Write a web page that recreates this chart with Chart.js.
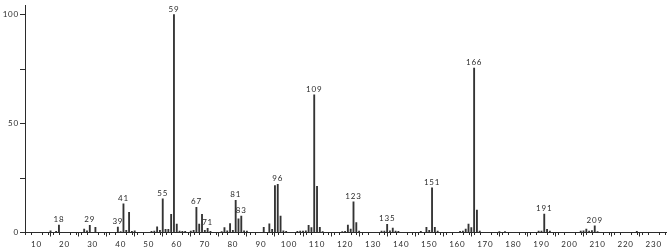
<!DOCTYPE html>
<html>
<head>
<meta charset="utf-8">
<script src="https://cdn.jsdelivr.net/npm/chart.js@4/dist/chart.umd.min.js"></script>
<style>
  html, body { margin: 0; padding: 0; background: #fff; }
  #wrap { width: 667px; height: 249px; position: relative; }
</style>
</head>
<body>
<div id="wrap"><canvas id="ms"></canvas></div>
<script>
/* ── Espectro de masas: m/z e intensidad relativa ── */
const masses = [
  15, 17, 18, 27, 28, 29, 31, 39, 40, 41, 42, 43, 44, 45,
  51, 52, 53, 54, 55, 56, 57, 58, 59, 60, 61, 62, 63,
  65, 66, 67, 68, 69, 70, 71, 72, 76, 77, 78, 79, 80, 81, 82, 83, 84, 85,
  91, 93, 94, 95, 96, 97, 98, 99, 103, 104, 105, 106, 107, 108, 109, 110, 111, 112,
  119, 120, 121, 122, 123, 124, 125, 133, 134, 135, 136, 137, 138, 139,
  147, 149, 150, 151, 152, 153, 161, 162, 163, 164, 165, 166, 167, 168,
  175, 177, 189, 190, 191, 192, 193, 204, 205, 206, 207, 208, 209, 210, 224
];
const intensities = [
  0.8, 0.5, 3.4, 1.6, 0.8, 3.3, 2.4, 2.5, 0.4, 13.2, 1.0, 9.2, 0.5, 0.8,
  0.5, 0.6, 2.6, 1.0, 15.4, 1.5, 1.5, 8.3, 100, 3.9, 0.7, 0.5, 0.5,
  0.7, 1.0, 11.5, 3.9, 8.3, 1.0, 1.9, 0.5, 0.4, 2.2, 0.8, 4.1, 1.0, 14.8, 6.3, 7.5, 0.8, 0.7,
  2.4, 4.0, 1.4, 21.5, 22.1, 7.5, 0.8, 0.5, 0.5, 0.7, 0.6, 0.8, 3.3, 2.2, 63.1, 21.2, 2.4, 0.4,
  0.4, 0.5, 3.4, 1.6, 14.1, 4.5, 0.7, 0.6, 0.6, 3.8, 0.8, 2.0, 0.6, 0.5,
  0.5, 2.4, 1.0, 20.5, 2.4, 0.7, 0.5, 0.7, 1.6, 3.9, 2.2, 75.4, 10.3, 0.6,
  0.4, 0.4, 0.6, 0.6, 8.4, 1.4, 0.6, 0.6, 0.8, 1.6, 0.7, 0.9, 3.1, 0.4, 0.5
];
const labeledPeaks = [18, 29, 39, 41, 55, 59, 67, 71, 81, 83, 96, 109, 123, 135, 151, 166, 191, 209];

const xTicks = [10, 20, 30, 40, 50, 60, 70, 80, 90, 100, 110, 120, 130, 140, 150, 160, 170, 180, 190, 200, 210, 220, 230];
const yTicks = [0, 25, 50, 75, 100];
const yTickLabels = ['0', '', '50', '', '100'];

const FONT = 'Lato';
const INK  = '#2b2b2b';

/* ── Etiquetas de picos sobre las barras ── */
const peakLabels = {
  id: 'peakLabels',
  afterDatasetsDraw(chart) {
    const { ctx, scales: { x, y } } = chart;
    ctx.save();
    ctx.font = `8px ${FONT}`;
    ctx.fillStyle = INK;
    ctx.textAlign = 'center';
    ctx.textBaseline = 'alphabetic';
    labeledPeaks.forEach(m => {
      const v = intensities[masses.indexOf(m)];
      ctx.fillText(String(m), x.getPixelForValue(m), y.getPixelForValue(v) - 3);
    });
    ctx.restore();
  }
};

/* ── Marcas menores del eje x (cada 2 unidades) ── */
const minorTicks = {
  id: 'minorTicks',
  afterDraw(chart) {
    const { ctx, scales: { x }, chartArea } = chart;
    ctx.save();
    ctx.strokeStyle = INK;
    ctx.lineWidth = 1;
    ctx.beginPath();
    for (let m = 6; m <= 234; m += 2) {
      if (m % 10 === 0) continue;
      const px = Math.round(x.getPixelForValue(m)) + 0.5;
      ctx.moveTo(px, chartArea.bottom);
      ctx.lineTo(px, chartArea.bottom + 2.5);
    }
    ctx.stroke();
    ctx.restore();
  }
};

const spacing = {
  id: 'spacing',
  beforeDraw(chart) { chart.ctx.letterSpacing = '0.8px'; }
};

new Chart(document.getElementById('ms'), {
  type: 'bar',
  data: {
    datasets: [{
      data: masses.map((m, i) => ({ x: m, y: intensities[i] })),
      backgroundColor: '#333',
      borderWidth: 0,
      barThickness: 1.2,
    }],
  },
  options: {
    responsive: true,
    maintainAspectRatio: false,
    animation: false,
    layout: { padding: { top: 5, right: 1, left: 0, bottom: 0 } },
    plugins: { legend: { display: false }, tooltip: { enabled: false } },
    scales: {
      x: {
        type: 'linear', min: 5.9, max: 234.4, offset: false,
        afterBuildTicks: s => { s.ticks = xTicks.map(v => ({ value: v })); },
        afterFit: s => { s.height = 16.5; },
        grid: { display: true, drawOnChartArea: false, drawTicks: true, tickLength: 4, color: INK },
        border: { color: INK, width: 1 },
        ticks: { font: { family: FONT, size: 8 }, color: INK, padding: 3, maxRotation: 0, autoSkip: false },
      },
      y: {
        min: 0, max: 104,
        afterBuildTicks: s => { s.ticks = yTicks.map(v => ({ value: v })); },
        afterFit: s => { s.width = 25; },
        grid: { display: true, drawOnChartArea: false, drawTicks: true, tickLength: 5, color: INK },
        border: { color: INK, width: 1 },
        ticks: {
          font: { family: FONT, size: 8 }, color: INK, padding: 1, autoSkip: false,
          callback: v => yTickLabels[yTicks.indexOf(v)] ?? '',
        },
      },
    },
  },
  plugins: [spacing, peakLabels, minorTicks],
});
</script>
</body>
</html>
